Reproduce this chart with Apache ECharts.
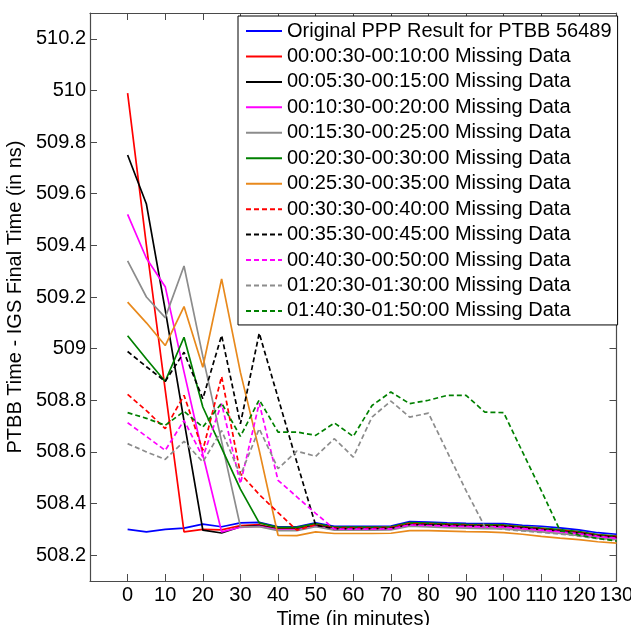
<!DOCTYPE html>
<html>
<head>
<meta charset="utf-8">
<script src="https://cdn.jsdelivr.net/npm/echarts@6/dist/echarts.min.js"></script>
<style>
  html, body { margin: 0; padding: 0; background: #fff; }
  #chart { width: 631px; height: 625px; }
</style>
</head>
<body>
<div id="chart"></div>
<script>
// Sample times (minutes), one point every 5 minutes
const times = [0, 5, 10, 15, 20, 25, 30, 35, 40, 45, 50, 55, 60, 65, 70, 75, 80, 85, 90, 95, 100, 105, 110, 115, 120, 125, 130];

const xTicks = [0, 10, 20, 30, 40, 50, 60, 70, 80, 90, 100, 110, 120, 130];
const yTicks = [508.2, 508.4, 508.6, 508.8, 509, 509.2, 509.4, 509.6, 509.8, 510, 510.2];

const seriesNames = [
  'Original PPP Result for PTBB 56489',
  '00:00:30-00:10:00 Missing Data',
  '00:05:30-00:15:00 Missing Data',
  '00:10:30-00:20:00 Missing Data',
  '00:15:30-00:25:00 Missing Data',
  '00:20:30-00:30:00 Missing Data',
  '00:25:30-00:35:00 Missing Data',
  '00:30:30-00:40:00 Missing Data',
  '00:35:30-00:45:00 Missing Data',
  '00:40:30-00:50:00 Missing Data',
  '01:20:30-01:30:00 Missing Data',
  '01:40:30-01:50:00 Missing Data'
];

// PTBB - IGS final time (ns)
const original = [508.300, 508.290, 508.300, 508.305, 508.320, 508.310, 508.325, 508.327, 508.310, 508.310, 508.325, 508.312, 508.312, 508.312, 508.313, 508.330, 508.328, 508.325, 508.323, 508.322, 508.322, 508.316, 508.312, 508.306, 508.298, 508.287, 508.281];
const gap0030 = [509.99, 509.40, 508.84, 508.290, 508.300, 508.298, 508.315, 508.318, 508.303, 508.303, 508.318, 508.305, 508.305, 508.305, 508.306, 508.322, 508.320, 508.318, 508.316, 508.315, 508.314, 508.308, 508.302, 508.296, 508.288, 508.278, 508.272];
const gap0530 = [509.75, 509.56, 509.15, 508.72, 508.297, 508.286, 508.310, 508.315, 508.300, 508.300, 508.315, 508.302, 508.302, 508.302, 508.303, 508.318, 508.317, 508.315, 508.313, 508.312, 508.311, 508.305, 508.299, 508.293, 508.285, 508.275, 508.268];
const gap1030 = [509.52, 509.35, 509.24, 508.91, 508.59, 508.290, 508.308, 508.312, 508.298, 508.298, 508.312, 508.300, 508.300, 508.300, 508.301, 508.316, 508.314, 508.312, 508.310, 508.309, 508.308, 508.302, 508.296, 508.290, 508.282, 508.272, 508.265];
const gap1530 = [509.34, 509.20, 509.12, 509.32, 508.97, 508.64, 508.310, 508.310, 508.295, 508.295, 508.310, 508.297, 508.297, 508.297, 508.298, 508.312, 508.310, 508.307, 508.305, 508.303, 508.302, 508.296, 508.290, 508.284, 508.276, 508.266, 508.260];
const gap2030 = [509.05, 508.96, 508.873, 509.044, 508.774, 508.615, 508.456, 508.325, 508.308, 508.308, 508.322, 508.309, 508.309, 508.309, 508.310, 508.326, 508.324, 508.321, 508.319, 508.318, 508.317, 508.311, 508.305, 508.299, 508.291, 508.280, 508.274];
const gap2530 = [509.18, 509.10, 509.012, 509.163, 508.928, 509.27, 508.908, 508.606, 508.277, 508.276, 508.290, 508.284, 508.284, 508.284, 508.285, 508.295, 508.295, 508.293, 508.291, 508.290, 508.287, 508.281, 508.273, 508.266, 508.260, 508.252, 508.247];
const gap3030 = [508.823, 508.76, 508.69, 508.819, 508.606, 508.892, 508.516, 508.435, 508.365, 508.297, 508.318, 508.306, 508.306, 508.306, 508.307, 508.322, 508.320, 508.318, 508.316, 508.315, 508.314, 508.308, 508.302, 508.296, 508.288, 508.278, 508.272];
const gap3530 = [508.989, 508.93, 508.873, 508.986, 508.806, 509.051, 508.709, 509.06, 508.81, 508.56, 508.316, 508.303, 508.303, 508.303, 508.304, 508.319, 508.318, 508.316, 508.314, 508.313, 508.312, 508.306, 508.300, 508.294, 508.286, 508.276, 508.269];
const gap4030 = [508.713, 508.66, 508.606, 508.722, 508.58, 508.787, 508.477, 508.789, 508.49, 508.426, 508.362, 508.301, 508.301, 508.301, 508.302, 508.317, 508.315, 508.313, 508.311, 508.310, 508.309, 508.303, 508.297, 508.291, 508.283, 508.273, 508.266];
const gap12030 = [508.632, 508.60, 508.571, 508.641, 508.561, 508.683, 508.509, 508.69, 508.535, 508.603, 508.583, 508.651, 508.58, 508.735, 508.797, 508.735, 508.75, 508.60, 508.45, 508.31, 508.300, 508.294, 508.288, 508.282, 508.274, 508.264, 508.258];
const gap14030 = [508.752, 508.73, 508.703, 508.757, 508.696, 508.789, 508.66, 508.802, 508.677, 508.677, 508.664, 508.712, 508.66, 508.78, 508.832, 508.787, 508.80, 508.819, 508.819, 508.754, 508.752, 508.60, 508.45, 508.295, 508.278, 508.265, 508.255];

const seriesValues = [original, gap0030, gap0530, gap1030, gap1530, gap2030, gap2530, gap3030, gap3530, gap4030, gap12030, gap14030];
const seriesColors = ['#0000ff', '#ff0000', '#000000', '#ff00ff', '#8c8c8c', '#008000', '#e8891c', '#ff0000', '#000000', '#ff00ff', '#8c8c8c', '#008000'];
const seriesDashed = [false, false, false, false, false, false, false, true, true, true, true, true];

const FONT = 'Liberation Sans, Arial, sans-serif';
const AXIS_COLOR = '#4a4a4a';

const chart = echarts.init(document.getElementById('chart'), null, { renderer: 'canvas' });

function fmtY(v) { return String(parseFloat(Number(v).toFixed(1))); }

const baseAxisLine = { show: true, onZero: false, lineStyle: { color: AXIS_COLOR, width: 1.2 } };

const series = seriesNames.map((name, i) => ({
  name: name,
  type: 'line',
  xAxisIndex: 0,
  yAxisIndex: 0,
  symbol: 'none',
  silent: true,
  data: times.map((t, k) => [t, seriesValues[i][k]]),
  lineStyle: {
    color: seriesColors[i],
    width: 1.7,
    type: seriesDashed[i] ? [5, 3] : 'solid'
  },
  itemStyle: { color: seriesColors[i] }
}));

chart.setOption({
  animation: false,
  backgroundColor: '#ffffff',
  grid: { left: 90, top: 13, right: 14.5, bottom: 44, containLabel: false, outerBoundsMode: 'none' },
  xAxis: [
    {
      type: 'value', position: 'bottom', min: -10, max: 130,
      name: 'Time (in minutes)', nameLocation: 'middle', nameGap: 22,
      nameTextStyle: { fontFamily: FONT, fontSize: 20, color: '#000' },
      axisLine: baseAxisLine,
      axisTick: { show: true, inside: true, length: 7, customValues: xTicks, lineStyle: { color: AXIS_COLOR } },
      axisLabel: { show: true, customValues: xTicks, margin: 4, fontFamily: FONT, fontSize: 20, color: '#000' },
      splitLine: { show: false }
    },
    {
      type: 'value', position: 'top', min: -10, max: 130,
      axisLine: baseAxisLine,
      axisTick: { show: true, inside: true, length: 7, customValues: xTicks, lineStyle: { color: AXIS_COLOR } },
      axisLabel: { show: false },
      splitLine: { show: false }
    }
  ],
  yAxis: [
    {
      type: 'value', position: 'left', min: 508.1, max: 510.3,
      name: 'PTBB Time - IGS Final Time (in ns)', nameLocation: 'middle', nameGap: 56,
      nameTextStyle: { fontFamily: FONT, fontSize: 20, color: '#000' },
      axisLine: baseAxisLine,
      axisTick: { show: true, inside: true, length: 7, customValues: yTicks, lineStyle: { color: AXIS_COLOR } },
      axisLabel: { show: true, customValues: yTicks, margin: 4, formatter: fmtY, fontFamily: FONT, fontSize: 20, color: '#000' },
      splitLine: { show: false }
    },
    {
      type: 'value', position: 'right', min: 508.1, max: 510.3,
      axisLine: baseAxisLine,
      axisTick: { show: true, inside: true, length: 7, customValues: yTicks, lineStyle: { color: AXIS_COLOR } },
      axisLabel: { show: false },
      splitLine: { show: false }
    }
  ],
  legend: {
    show: true,
    orient: 'vertical',
    left: 238,
    top: 16,
    padding: [5, 6, 4, 7],
    itemWidth: 36,
    itemHeight: 14,
    itemGap: 5.45,
    backgroundColor: '#ffffff',
    borderColor: '#000000',
    borderWidth: 1,
    selectedMode: false,
    // legend keys show only the line sample
    itemStyle: { color: 'transparent', borderColor: 'transparent', borderWidth: 0 },
    textStyle: { fontFamily: FONT, fontSize: 20, color: '#000' },
    data: seriesNames
  },
  series: series
});
</script>
</body>
</html>
